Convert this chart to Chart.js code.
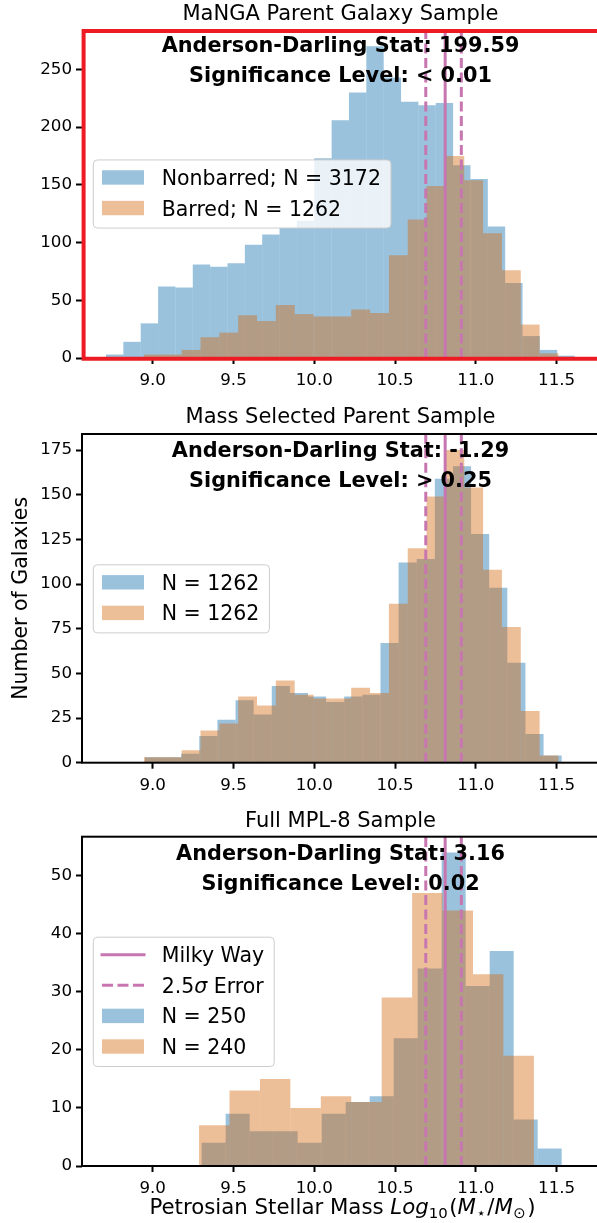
<!DOCTYPE html>
<html>
<head>
<meta charset="utf-8">
<script src="https://cdn.jsdelivr.net/npm/chart.js@4.4.1/dist/chart.umd.min.js"></script>
<style>
  html, body { margin: 0; padding: 0; background: #fff; overflow: hidden; }
  #wrap { position: relative; width: 597px; height: 1223px; overflow: hidden; background: #fff; }
  canvas { position: absolute; left: 0; }
</style>
</head>
<body>
<div id="wrap">
  <canvas id="panel1" width="600" height="400" style="top:0px"></canvas>
  <canvas id="panel2" width="600" height="400" style="top:400px"></canvas>
  <canvas id="panel3" width="600" height="423" style="top:800px"></canvas>
</div>
<script>
// ---- values ----
const xTicks = [9.0, 9.5, 10.0, 10.5, 11.0, 11.5];
const xLimits = [8.5625, 11.762];

const milkyWayMass = 10.81;
const milkyWayError = [10.69, 10.91];   // 2.5 sigma

// MaNGA parent sample
const nonbarredBins = [8.711, 11.611];
const nonbarredCounts = [3, 14, 30, 62, 61, 81, 79, 82, 98, 107, 113, 119, 173, 206, 230, 270, 243, 222, 219, 221, 167, 155, 114, 65, 19, 7, 2];
const barredBins = [8.946, 11.511];
const barredCounts = [3, 3, 7, 18, 22, 37, 32, 46, 38, 36, 36, 42, 39, 89, 120, 149, 175, 154, 108, 76, 29, 4];
const panel1YTicks = [0, 50, 100, 150, 200, 250];

// mass selected parent sample (nonbarred matched to barred)
const matchedBins = [8.952, 11.531];
const matchedCounts = [3, 3, 5, 15, 24, 35, 27, 43, 39, 37, 34, 37, 38, 67, 112, 114, 159, 166, 128, 98, 56, 16, 4];
const panel2YTicks = [0, 25, 50, 75, 100, 125, 150, 175];

// full MPL-8 sample
const mplNonbarredBins = [9.303, 11.531];
const mplNonbarredCounts = [4, 9, 6, 6, 4, 9, 11, 12, 22, 34, 54, 31, 37, 8, 3];
const mplBarredBins = [9.287, 11.359];
const mplBarredCounts = [7, 13, 15, 10, 12, 11, 29, 47, 44, 33, 19];
const panel3YTicks = [0, 10, 20, 30, 40, 50];

// ---- styling ----
const BLUE = 'rgba(31, 119, 180, 0.45)';
const ORANGE = 'rgba(212, 102, 12, 0.42)';
const MW_PINK = '#c776b0';
const RED = '#ed1c24';
const FONT = '"DejaVu Sans", sans-serif';
const TICK_SIZE = 16.7;
const TEXT_SIZE = 20.5;
const TITLE_SIZE = 21;
const STAT_SIZE = 20.8;
const XLABEL_SIZE = 21.3;

// bin centres from the histogram range
function histPoints(range, counts) {
    const w = (range[1] - range[0]) / counts.length;
    return counts.map((c, i) => ({ x: range[0] + w * (i + 0.5), y: c }));
}

function vline(x, yMax, dashed, label) {
    return {
        type: 'line',
        label: label,
        data: [{ x: x, y: 0 }, { x: x, y: yMax }],
        xAxisID: 'x',
        borderColor: MW_PINK,
        borderWidth: 3,
        borderDash: dashed ? [10, 4.5] : [],
        pointRadius: 0,
        fill: false,
        order: 0
    };
}

// plain / italic / subscript pieces, with optional extra gap after a piece
function pieceFont(p, size) {
    return (p.s === 'it' ? 'italic ' : '') + (p.s === 'sub' ? size * 0.7 : size) + 'px ' + FONT;
}

function piecesWidth(ctx, pieces, size) {
    let total = 0;
    pieces.forEach(p => {
        ctx.font = pieceFont(p, size);
        total += ctx.measureText(p.t).width + (p.gap || 0);
    });
    return total;
}

function drawPieces(ctx, pieces, x, baseline, size, align) {
    const total = piecesWidth(ctx, pieces, size);
    let cx = align === 'center' ? x - total / 2 : x;
    ctx.textAlign = 'left';
    ctx.textBaseline = 'alphabetic';
    pieces.forEach(p => {
        ctx.font = pieceFont(p, size);
        ctx.fillText(p.t, cx, baseline + (p.s === 'sub' ? size * 0.22 : 0));
        cx += ctx.measureText(p.t).width + (p.gap || 0);
    });
    return total;
}

function drawLegend(ctx, area, items) {
    const rowGap = 30.6;
    const left = area.left + 11.3;
    const handleX = left + 8.7;
    const textX = left + 68.4;
    let textW = 0;
    items.forEach(it => { textW = Math.max(textW, piecesWidth(ctx, it.text, TEXT_SIZE)); });
    const w = textX - left + textW + 10;
    const h = 17.5 + (items.length - 1) * rowGap + 20;
    const top = (area.top + area.bottom) / 2 - h / 2 + 0.5;

    ctx.beginPath();
    ctx.roundRect(left, top, w, h, 4);
    ctx.fillStyle = 'rgba(255, 255, 255, 0.8)';
    ctx.fill();
    ctx.strokeStyle = '#cccccc';
    ctx.lineWidth = 1;
    ctx.stroke();

    items.forEach((it, i) => {
        const cy = top + 17.5 + i * rowGap;
        if (it.kind === 'patch') {
            ctx.fillStyle = it.color;
            ctx.fillRect(handleX, cy - 7.2, 42, 14.4);
        } else {
            ctx.beginPath();
            ctx.strokeStyle = MW_PINK;
            ctx.lineWidth = 3;
            ctx.setLineDash(it.kind === 'dash' ? [11, 4.5] : []);
            ctx.lineCap = it.kind === 'dash' ? 'butt' : 'square';
            ctx.moveTo(handleX, cy);
            ctx.lineTo(handleX + 42, cy);
            ctx.stroke();
            ctx.setLineDash([]);
            ctx.lineCap = 'butt';
        }
        ctx.fillStyle = '#000';
        drawPieces(ctx, it.text, textX, cy + 0.365 * TEXT_SIZE, TEXT_SIZE, 'left');
    });
}

const xLabel = [
    { t: 'Petrosian Stellar Mass ' }, { t: 'Log', s: 'it' }, { t: '10', s: 'sub', gap: 1.5 },
    { t: '(' }, { t: 'M', s: 'it', gap: 0.5 }, { t: '\u22C6', s: 'sub', gap: 1.5 }, { t: '/' },
    { t: 'M', s: 'it', gap: 0.5 }, { t: '\u2299', s: 'sub', gap: 1.5 }, { t: ')' }
];

function decorPlugin(p) {
    return {
        id: 'decor_' + p.canvas,
        afterDatasetsDraw(chart) {
            const ctx = chart.ctx;
            const a = chart.chartArea;
            ctx.save();
            // axes frame
            if (!p.highlight) {
                ctx.strokeStyle = '#000';
                ctx.lineWidth = 2;
                ctx.strokeRect(a.left, a.top, a.right - a.left, a.bottom - a.top);
            }
            // Anderson-Darling text
            ctx.fillStyle = '#000';
            ctx.font = 'bold ' + STAT_SIZE + 'px ' + FONT;
            ctx.textAlign = 'center';
            ctx.textBaseline = 'alphabetic';
            const cx = (a.left + a.right) / 2;
            ctx.fillText(p.stats[0], cx, a.top + 22.8);
            ctx.fillText(p.stats[1], cx, a.top + 52.8);

            drawLegend(ctx, a, p.legend);

            // red highlight box round the first panel
            if (p.highlight) {
                ctx.beginPath();
                ctx.strokeStyle = RED;
                ctx.lineWidth = 4;
                ctx.moveTo(chart.width + 10, a.top + 2);
                ctx.lineTo(a.left + 1.6, a.top + 2);
                ctx.lineTo(a.left + 1.6, a.bottom + 0.8);
                ctx.lineTo(chart.width + 10, a.bottom + 0.8);
                ctx.stroke();
            }
            if (p.showXLabel) {
                ctx.fillStyle = '#000';
                drawPieces(ctx, xLabel, cx + 2, a.bottom + 40 + 0.365 * XLABEL_SIZE, XLABEL_SIZE, 'center');
            }
            ctx.restore();
        }
    };
}

const panels = [
    {
        canvas: 'panel1', title: 'MaNGA Parent Galaxy Sample', titlePad: { top: 2.4, bottom: 1.4 },
        xAxisHeight: 42, yMax: 285, yTicks: panel1YTicks,
        blue: histPoints(nonbarredBins, nonbarredCounts), blueLabel: 'Nonbarred; N = 3172',
        orange: histPoints(barredBins, barredCounts), orangeLabel: 'Barred; N = 1262',
        stats: ['Anderson-Darling Stat: 199.59', 'Significance Level: < 0.01'],
        legend: [
            { kind: 'patch', color: BLUE, text: [{ t: 'Nonbarred; N = 3172' }] },
            { kind: 'patch', color: ORANGE, text: [{ t: 'Barred; N = 1262' }] }
        ],
        highlight: true
    },
    {
        canvas: 'panel2', title: 'Mass Selected Parent Sample', titlePad: { top: 4.9, bottom: 3.9 },
        xAxisHeight: 37.3, yMax: 184, yTicks: panel2YTicks, yTitle: 'Number of Galaxies',
        blue: histPoints(matchedBins, matchedCounts), blueLabel: 'N = 1262',
        orange: histPoints(barredBins, barredCounts), orangeLabel: 'N = 1262',
        stats: ['Anderson-Darling Stat: -1.29', 'Significance Level: > 0.25'],
        legend: [
            { kind: 'patch', color: BLUE, text: [{ t: 'N = 1262' }] },
            { kind: 'patch', color: ORANGE, text: [{ t: 'N = 1262' }] }
        ]
    },
    {
        canvas: 'panel3', title: 'Full MPL-8 Sample', titlePad: { top: 8.6, bottom: 2.9 },
        xAxisHeight: 57, yMax: 56.7, yTicks: panel3YTicks,
        blue: histPoints(mplNonbarredBins, mplNonbarredCounts), blueLabel: 'N = 250',
        orange: histPoints(mplBarredBins, mplBarredCounts), orangeLabel: 'N = 240',
        stats: ['Anderson-Darling Stat: 3.16', 'Significance Level: 0.02'],
        legend: [
            { kind: 'line', text: [{ t: 'Milky Way' }] },
            { kind: 'dash', text: [{ t: '2.5' }, { t: '\u03C3', s: 'it' }, { t: ' Error' }] },
            { kind: 'patch', color: BLUE, text: [{ t: 'N = 250' }] },
            { kind: 'patch', color: ORANGE, text: [{ t: 'N = 240' }] }
        ],
        showXLabel: true
    }
];

const tickFont = { family: FONT, size: TICK_SIZE };
const tickGrid = {
    display: true, drawOnChartArea: false, drawTicks: true, offset: false,
    tickLength: 6, tickWidth: 2, tickColor: '#000'
};

panels.forEach(p => {
    const ctx = document.getElementById(p.canvas).getContext('2d');
    new Chart(ctx, {
        type: 'bar',
        data: {
            datasets: [
                vline(milkyWayMass, p.yMax, false, 'Milky Way'),
                vline(milkyWayError[0], p.yMax, true, '2.5\u03C3 Error'),
                vline(milkyWayError[1], p.yMax, true, ''),
                {
                    label: p.orangeLabel, data: p.orange, xAxisID: 'xb',
                    backgroundColor: ORANGE, borderWidth: 0, grouped: false, inflateAmount: 0,
                    barPercentage: 1, categoryPercentage: 1, order: 1
                },
                {
                    label: p.blueLabel, data: p.blue, xAxisID: 'x',
                    backgroundColor: BLUE, borderWidth: 0, grouped: false, inflateAmount: 0,
                    barPercentage: 1, categoryPercentage: 1, order: 2
                }
            ]
        },
        options: {
            responsive: false,
            maintainAspectRatio: false,
            devicePixelRatio: 1,
            animation: false,
            layout: { padding: { left: 0, right: 1, top: 0, bottom: 0 } },
            plugins: {
                legend: { display: false },
                tooltip: { enabled: false },
                title: {
                    display: true,
                    text: p.title,
                    fullSize: false,
                    color: '#000',
                    font: { family: FONT, size: TITLE_SIZE, weight: 'normal' },
                    padding: p.titlePad
                }
            },
            scales: {
                x: {
                    type: 'linear', position: 'bottom', offset: false,
                    min: xLimits[0], max: xLimits[1],
                    afterBuildTicks: s => { s.ticks = xTicks.map(v => ({ value: v })); },
                    afterFit: s => { s.height = p.xAxisHeight; },
                    ticks: {
                        color: '#000', font: tickFont, padding: 7, maxRotation: 0, autoSkip: false,
                        callback: v => Number(v).toFixed(1)
                    },
                    grid: tickGrid,
                    border: { display: false }
                },
                xb: {
                    type: 'linear', position: 'bottom', display: false, offset: false,
                    min: xLimits[0], max: xLimits[1],
                    afterBuildTicks: s => { s.ticks = xTicks.map(v => ({ value: v })); }
                },
                y: {
                    type: 'linear', position: 'left',
                    min: 0, max: p.yMax,
                    afterBuildTicks: s => { s.ticks = p.yTicks.map(v => ({ value: v })); },
                    afterFit: s => { s.width = 82; },
                    ticks: { color: '#000', font: tickFont, padding: 4, callback: v => String(v) },
                    grid: tickGrid,
                    border: { display: false },
                    title: {
                        display: !!p.yTitle,
                        text: p.yTitle || '',
                        color: '#000',
                        font: { family: FONT, size: TEXT_SIZE },
                        padding: { top: 8.9, bottom: 0 }
                    }
                }
            }
        },
        plugins: [decorPlugin(p)]
    });
});
</script>
</body>
</html>
